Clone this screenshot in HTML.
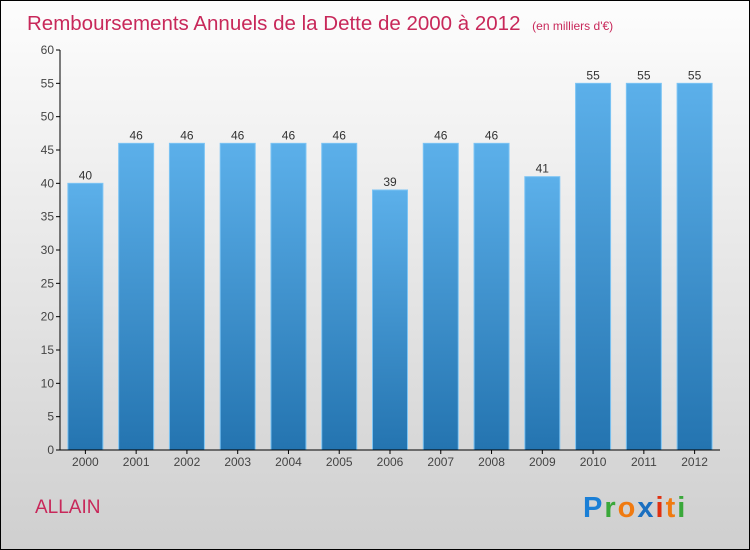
<!DOCTYPE html>
<html><head><meta charset="utf-8"><style>
body{margin:0;width:750px;height:550px;overflow:hidden}
svg{display:block;font-family:"Liberation Sans",sans-serif}
</style></head><body>
<svg id="chart" width="750" height="550">
<defs>
<linearGradient id="bg" x1="0" y1="0" x2="0" y2="1"><stop offset="0" stop-color="#fdfdfd"/><stop offset="1" stop-color="#cfcfcf"/></linearGradient>
<linearGradient id="bar" x1="0" y1="0" x2="0" y2="1"><stop offset="0" stop-color="#5cb0ea"/><stop offset="1" stop-color="#2474b0"/></linearGradient>
</defs>
<rect x="0.5" y="0.5" width="749" height="549" fill="url(#bg)" stroke="#000"/>
<text x="27" y="30" font-size="20.5" fill="#c8285a">Remboursements Annuels de la Dette de 2000 à 2012 <tspan font-size="12" dx="6">(en milliers d'€)</tspan></text>
<text x="35" y="513" font-size="19" fill="#c8285a">ALLAIN</text>
<g font-size="29" font-weight="bold" font-family="'Liberation Sans',sans-serif">
<text x="583" y="517" letter-spacing="2"><tspan fill="#1a7fd6">P</tspan><tspan fill="#3aa83a">r</tspan><tspan fill="#f07a10">o</tspan><tspan fill="#1a6fc0">x</tspan><tspan fill="#e03010">i</tspan><tspan fill="#f07a10">t</tspan><tspan fill="#3aa83a">i</tspan></text>
</g>
<g id="g"></g>
</svg>
<script>
const categories=["2000","2001","2002","2003","2004","2005","2006","2007","2008","2009","2010","2011","2012"];
const values=[40,46,46,46,46,46,39,46,46,41,55,55,55];
const yTicks=[0,5,10,15,20,25,30,35,40,45,50,55,60];
const ns="http://www.w3.org/2000/svg",g=document.getElementById('g');
const x0=60,x1=720,y0=450,y1=50,band=(x1-x0)/categories.length;
const y=v=>y0-(v-0)/(60-0)*(y0-y1);
const xb=i=>x0+i*band;
function mk(t,a,p){const e=document.createElementNS(ns,t);for(const k in a)e.setAttribute(k,a[k]);(p||g).appendChild(e);return e;}
yTicks.forEach(v=>{
const l=mk('line',{x1:x0-4,x2:x0,y1:y(v),y2:y(v),stroke:'#000'});


const t=mk('text',{x:x0-6,y:y(v)+4,'font-size':12,'text-anchor':'end',fill:'#444'});
t.textContent=v;


});
categories.forEach((c,i)=>{
const cx=xb(i)+band/2;
const r=mk('rect',{x:cx-17.5,y:y(values[i]),width:35,height:y0-y(values[i]),fill:'url(#bar)',stroke:'#7cc4f4','stroke-width':1});


const v=mk('text',{x:cx,y:y(values[i])-4,'font-size':12,'text-anchor':'middle',fill:'#333'});
v.textContent=values[i];


const tk=mk('line',{x1:cx,x2:cx,y1:y0,y2:y0+4,stroke:'#000'});


const t=mk('text',{x:cx,y:y0+16,'font-size':12,'text-anchor':'middle',fill:'#444'});
t.textContent=c;


});
const ya=mk('line',{x1:x0,x2:x0,y1:y1,y2:y0,stroke:'#000'});


const xa=mk('line',{x1:x0,x2:x1,y1:y0,y2:y0,stroke:'#000'});


</script>
</body></html>
